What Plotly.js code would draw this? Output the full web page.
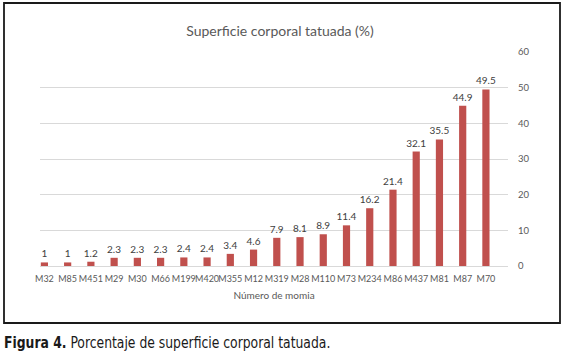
<!DOCTYPE html>
<html>
<head>
<meta charset="utf-8">
<script src="https://cdn.plot.ly/plotly-3.0.1.min.js"></script>
<style>
html,body{margin:0;padding:0;background:#fff;}
#wrap{position:relative;width:565px;height:357px;}
#chart{width:565px;height:357px;}
#caption{position:absolute;left:4px;top:333px;white-space:nowrap;
  font-family:'Liberation Sans Narrow','DejaVu Sans Condensed','DejaVu Sans',sans-serif;
  font-size:16px;line-height:20px;color:#1a1a1a;transform-origin:0 0;transform:scaleX(0.86);}
</style>
</head>
<body>
<div id="wrap">
<div id="chart"></div>
<div id="caption"></div>
</div>
<script>
var categories = ["M32","M85","M451","M29","M30","M66","M199","M420","M355","M12","M319","M28","M110","M73","M234","M86","M437","M81","M87","M70"];
var values = [1,1,1.2,2.3,2.3,2.3,2.4,2.4,3.4,4.6,7.9,8.1,8.9,11.4,16.2,21.4,32.1,35.5,44.9,49.5];
var yTicks = [0,10,20,30,40,50,60];
var chartTitle = "Superficie corporal tatuada (%)";
var xTitle = "Número de momia";
var captionBold = "Figura 4.";
var captionText = " Porcentaje de superficie corporal tatuada.";

var W = 565, H = 357;
var mL = 40, mR = 57, mT = 52, mB = 91;
var pw = W - mL - mR, ph = H - mT - mB;
function px(x){ return (x - mL) / pw; }
function py(y){ return (H - mB - y) / ph; }

var font = "Lato, 'Open Sans', sans-serif";

var cap = document.getElementById('caption');
var b = document.createElement('b');
b.textContent = captionBold;
cap.appendChild(b);
cap.appendChild(document.createTextNode(captionText));

var trace = {
  type: 'bar',
  x: categories,
  y: values,
  text: values.map(function(v){ return String(v); }),
  textposition: 'outside',
  constraintext: 'none',
  textfont: {family: font, size: 10, color: '#404040'},
  cliponaxis: false,
  marker: {color: '#C0504D'},
  hoverinfo: 'x+y'
};

var layout = {
  width: W, height: H,
  margin: {l: mL, r: mR, t: mT, b: mB, pad: 0},
  paper_bgcolor: 'rgba(0,0,0,0)',
  plot_bgcolor: '#ffffff',
  showlegend: false,
  bargap: 0.69,
  title: {
    text: chartTitle,
    font: {family: font, size: 14, color: '#595959'},
    x: 280 / W, xanchor: 'center', xref: 'container',
    y: 1 - 31 / H, yanchor: 'middle', yref: 'container'
  },
  xaxis: {
    type: 'category',
    range: [-0.19, 19.95],
    showgrid: false,
    zeroline: false,
    showline: false,
    ticks: '',
    tickangle: 0,
    tickfont: {family: font, size: 9, color: '#595959'},
    ticklabelstandoff: 6,
    title: {text: xTitle, font: {family: font, size: 10, color: '#595959'}, standoff: 8},
    automargin: false
  },
  yaxis: {
    side: 'right',
    range: [0, 60],
    tickvals: yTicks,
    showgrid: true,
    gridcolor: '#d9d9d9',
    gridwidth: 1,
    zeroline: true,
    zerolinecolor: '#d9d9d9',
    zerolinewidth: 1,
    showline: false,
    ticks: '',
    tickfont: {family: font, size: 9.5, color: '#595959'},
    ticklabelstandoff: 9,
    automargin: false,
    fixedrange: true
  },
  shapes: [{
    type: 'rect', xref: 'paper', yref: 'paper',
    x0: px(4), x1: px(560), y0: py(323), y1: py(3),
    line: {color: '#1a1a1a', width: 1.8},
    fillcolor: 'rgba(0,0,0,0)',
    layer: 'below'
  }]
};

Plotly.newPlot('chart', [trace], layout, {displayModeBar: false, staticPlot: true});
</script>
</body>
</html>
